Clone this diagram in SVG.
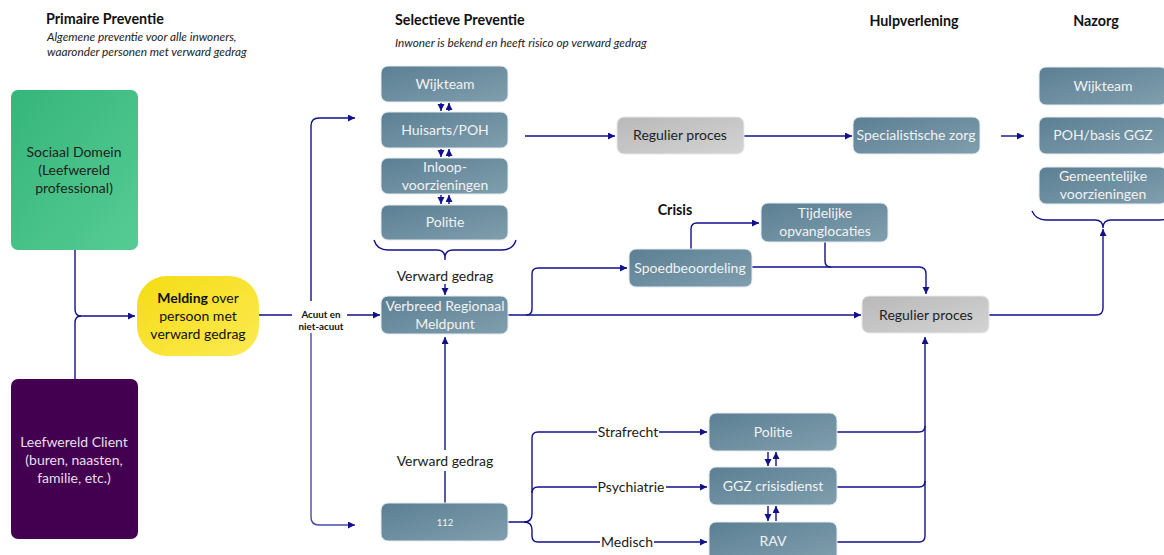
<svg xmlns="http://www.w3.org/2000/svg" width="1164" height="555" viewBox="0 0 1164 555">
  <style>
    text { font-family: Lato, "Open Sans", "Liberation Sans", sans-serif; }
    .h { font-size: 14.3px; font-weight: bold; fill: #111; }
    .sub { font-size: 11.8px; font-style: italic; fill: #222; }
    .nl { font-size: 14px; fill: #f2f2f2; text-anchor: middle; }
    .dl { font-size: 14px; fill: #1e1e1e; text-anchor: middle; }
    .lbl { font-size: 14px; fill: #1a1a1a; text-anchor: middle; }
    .sm { font-size: 9.8px; font-weight: bold; fill: #111; text-anchor: middle; }
    .blue { fill: url(#gBlue); stroke: #e6ecef; stroke-width: 1; }
    .grey { fill: url(#gGrey); stroke: #e8e8e8; stroke-width: 1; }
    .c { fill: none; stroke: #11118a; stroke-width: 1.4; }
    .ca { fill: none; stroke: #11118a; stroke-width: 1.4; marker-end: url(#arr); }
  </style>
  <defs>
    <linearGradient id="gBlue" x1="0" y1="0" x2="1" y2="1">
      <stop offset="0" stop-color="#5b7f93"/>
      <stop offset="1" stop-color="#809fae"/>
    </linearGradient>
    <linearGradient id="gGrey" x1="0" y1="0" x2="1" y2="1">
      <stop offset="0" stop-color="#b9b9b9"/>
      <stop offset="1" stop-color="#d3d3d3"/>
    </linearGradient>
    <linearGradient id="gGreen" x1="0" y1="0" x2="1" y2="1">
      <stop offset="0" stop-color="#35b57a"/>
      <stop offset="1" stop-color="#56cc94"/>
    </linearGradient>
    <linearGradient id="gYellow" x1="0" y1="0" x2="1" y2="1">
      <stop offset="0" stop-color="#f4dc14"/>
      <stop offset="1" stop-color="#fdea52"/>
    </linearGradient>
    <marker id="arr" markerUnits="userSpaceOnUse" markerWidth="8" markerHeight="8" refX="7" refY="3.5" orient="auto">
      <path d="M0,0 L7,3.5 L0,7 z" fill="#11118a"/>
    </marker>
  </defs>

  <!-- column headings -->
  <g id="headings">
    <text class="h" x="46" y="24">Primaire Preventie</text>
    <text class="sub" x="47" y="41">Algemene preventie voor alle inwoners,</text>
    <text class="sub" x="47" y="56">waaronder personen met verward gedrag</text>
    <text class="h" x="395" y="25">Selectieve Preventie</text>
    <text class="sub" x="395" y="47">Inwoner is bekend en heeft risico op verward gedrag</text>
    <text class="h" x="914" y="26" text-anchor="middle">Hulpverlening</text>
    <text class="h" x="1096" y="26" text-anchor="middle">Nazorg</text>
    <text class="h" x="675" y="215" text-anchor="middle">Crisis</text>
  </g>

  <!-- connectors -->
  <g id="connectors">
    <path class="c" d="M75,250 V309 Q75,316 81,316"/>
    <path class="c" d="M75,379 V323 Q75,316 81,316"/>
    <path class="ca" d="M81,316 H135"/>
    <path class="c" d="M259,315 H292"/>
    <path class="ca" d="M347,315 H380"/>
    <path class="ca" d="M311,301 V126 Q311,118 319,118 H355"/>
    <path class="ca" d="M311,333 V517 Q311,525 319,525 H355" style="stroke:#4a4aa4"/>

    <!-- two-way links between the selective prevention boxes -->
    <path class="ca" d="M441,103 V111"/>
    <path class="ca" d="M449,111 V103"/>
    <path class="ca" d="M441,149 V157"/>
    <path class="ca" d="M449,157 V149"/>
    <path class="ca" d="M441,195 V204"/>
    <path class="ca" d="M449,204 V195"/>

    <!-- brace under the selective prevention boxes -->
    <path class="c" d="M374,240 Q377,250 388,250 H437 Q445,250 445,258 Q445,250 453,250 H502 Q513,250 516,240"/>
    <path class="c" d="M445,258 V260"/>
    <path class="ca" d="M445,284 V295"/>

    <path class="ca" d="M525,136 H615"/>
    <path class="ca" d="M744,136 H852"/>
    <path class="ca" d="M1001,136 H1024"/>

    <path class="ca" d="M508,315 H861"/>
    <path class="ca" d="M526,315 Q532,315 532,309 V274 Q532,268 538,268 H627"/>
    <path class="ca" d="M691,249 V229 Q691,223 697,223 H759"/>
    <path class="ca" d="M752,267 H919 Q926,267 926,274 V294"/>
    <path class="c" d="M825,242 V261 Q825,267 831,267"/>
    <path class="ca" d="M989,315 H1096 Q1103,315 1103,308 V229"/>

    <!-- brace under the aftercare boxes -->
    <path class="c" d="M1032,211 Q1036,220 1046,220 H1095 Q1103,220 1103,228 Q1103,220 1111,220 H1160 Q1170,220 1174,211"/>

    <!-- 112 to the reporting point -->
    <path class="c" d="M445,503 V471"/>
    <path class="ca" d="M445,450 V337"/>

    <!-- 112 branches -->
    <path class="c" d="M508,522 H524 Q532,522 532,514 V438 Q532,432 538,432 H597"/>
    <path class="c" d="M532,493 Q532,487 538,487 H597"/>
    <path class="c" d="M524,522 Q532,522 532,530 V536 Q532,542 538,542 H600"/>
    <path class="ca" d="M659,432 H707"/>
    <path class="ca" d="M666,487 H707"/>
    <path class="ca" d="M654,542 H707"/>

    <path class="ca" d="M768,452 V466"/>
    <path class="ca" d="M776,466 V452"/>
    <path class="ca" d="M768,506 V521"/>
    <path class="ca" d="M776,521 V506"/>

    <path class="c" d="M837,432 H919 Q925,432 925,426"/>
    <path class="c" d="M837,487 H919 Q925,487 925,481"/>
    <path class="ca" d="M837,542 H919 Q925,542 925,536 V337"/>
  </g>

  <!-- connector labels -->
  <g id="labels">
    <text class="sm" x="321" y="318">Acuut en</text>
    <text class="sm" x="321" y="330">niet-acuut</text>
    <text class="lbl" x="445" y="281">Verward gedrag</text>
    <text class="lbl" x="445" y="466">Verward gedrag</text>
    <text class="lbl" x="628" y="437">Strafrecht</text>
    <text class="lbl" x="631" y="492">Psychiatrie</text>
    <text class="lbl" x="627" y="547">Medisch</text>
  </g>

  <g id="sociaal-domein">
    <rect x="11" y="90" width="127" height="160" rx="7" fill="url(#gGreen)"/>
    <text class="dl" x="74" y="157">Sociaal Domein</text>
    <text class="dl" x="74" y="175">(Leefwereld</text>
    <text class="dl" x="74" y="193">professional)</text>
  </g>

  <g id="leefwereld-client">
    <rect x="11" y="379" width="127" height="160" rx="7" fill="#440050"/>
    <text class="nl" x="74" y="447" style="fill:#e8dfea">Leefwereld Client</text>
    <text class="nl" x="74" y="465" style="fill:#e8dfea">(buren, naasten,</text>
    <text class="nl" x="74" y="483" style="fill:#e8dfea">familie, etc.)</text>
  </g>

  <g id="melding">
    <rect x="137" y="276" width="122" height="80" rx="30" fill="url(#gYellow)"/>
    <text class="dl" x="198" y="303" style="fill:#111"><tspan font-weight="bold">Melding</tspan> over</text>
    <text class="dl" x="198" y="321" style="fill:#111">persoon met</text>
    <text class="dl" x="198" y="339" style="fill:#111">verward gedrag</text>
  </g>

  <g id="wijkteam-sel">
    <rect class="blue" x="381" y="66" width="127" height="36" rx="7"/>
    <text class="nl" x="445" y="89">Wijkteam</text>
  </g>
  <g id="huisarts">
    <rect class="blue" x="381" y="112" width="127" height="36" rx="7"/>
    <text class="nl" x="445" y="135">Huisarts/POH</text>
  </g>
  <g id="inloop">
    <rect class="blue" x="381" y="158" width="127" height="36" rx="7"/>
    <text class="nl" x="445" y="172">Inloop-</text>
    <text class="nl" x="445" y="190">voorzieningen</text>
  </g>
  <g id="politie-sel">
    <rect class="blue" x="381" y="205" width="127" height="35" rx="7"/>
    <text class="nl" x="445" y="227">Politie</text>
  </g>

  <g id="verbreed-meldpunt">
    <rect class="blue" x="381" y="296" width="127" height="38" rx="7"/>
    <text class="nl" x="445" y="311">Verbreed Regionaal</text>
    <text class="nl" x="445" y="329">Meldpunt</text>
  </g>

  <g id="nr-112">
    <rect class="blue" x="381" y="503" width="127" height="38" rx="7"/>
    <text class="nl" x="445" y="526" style="font-size:9.5px">112</text>
  </g>

  <g id="regulier-top">
    <rect class="grey" x="617" y="117" width="127" height="37" rx="7"/>
    <text class="dl" x="680" y="140">Regulier proces</text>
  </g>

  <g id="specialistische-zorg">
    <rect class="blue" x="853" y="117" width="127" height="37" rx="7"/>
    <text class="nl" x="916" y="140">Specialistische zorg</text>
  </g>

  <g id="spoedbeoordeling">
    <rect class="blue" x="629" y="249" width="123" height="38" rx="7"/>
    <text class="nl" x="690" y="273">Spoedbeoordeling</text>
  </g>

  <g id="tijdelijke-opvang">
    <rect class="blue" x="761" y="203" width="127" height="39" rx="7"/>
    <text class="nl" x="825" y="218">Tijdelijke</text>
    <text class="nl" x="825" y="236">opvanglocaties</text>
  </g>

  <g id="regulier-mid">
    <rect class="grey" x="862" y="296" width="127" height="37" rx="7"/>
    <text class="dl" x="926" y="320">Regulier proces</text>
  </g>

  <g id="politie-crisis">
    <rect class="blue" x="709" y="413" width="128" height="38" rx="7"/>
    <text class="nl" x="773" y="437">Politie</text>
  </g>
  <g id="ggz-crisisdienst">
    <rect class="blue" x="709" y="467" width="128" height="38" rx="7"/>
    <text class="nl" x="773" y="491">GGZ crisisdienst</text>
  </g>
  <g id="rav">
    <rect class="blue" x="709" y="522" width="128" height="40" rx="7"/>
    <text class="nl" x="773" y="546">RAV</text>
  </g>

  <g id="wijkteam-nazorg">
    <rect class="blue" x="1039" y="67" width="128" height="38" rx="7"/>
    <text class="nl" x="1103" y="91">Wijkteam</text>
  </g>
  <g id="poh-basis-ggz">
    <rect class="blue" x="1039" y="117" width="128" height="37" rx="7"/>
    <text class="nl" x="1103" y="140">POH/basis GGZ</text>
  </g>
  <g id="gemeentelijke-voorzieningen">
    <rect class="blue" x="1039" y="167" width="128" height="37" rx="7"/>
    <text class="nl" x="1103" y="181">Gemeentelijke</text>
    <text class="nl" x="1103" y="199">voorzieningen</text>
  </g>
</svg>
